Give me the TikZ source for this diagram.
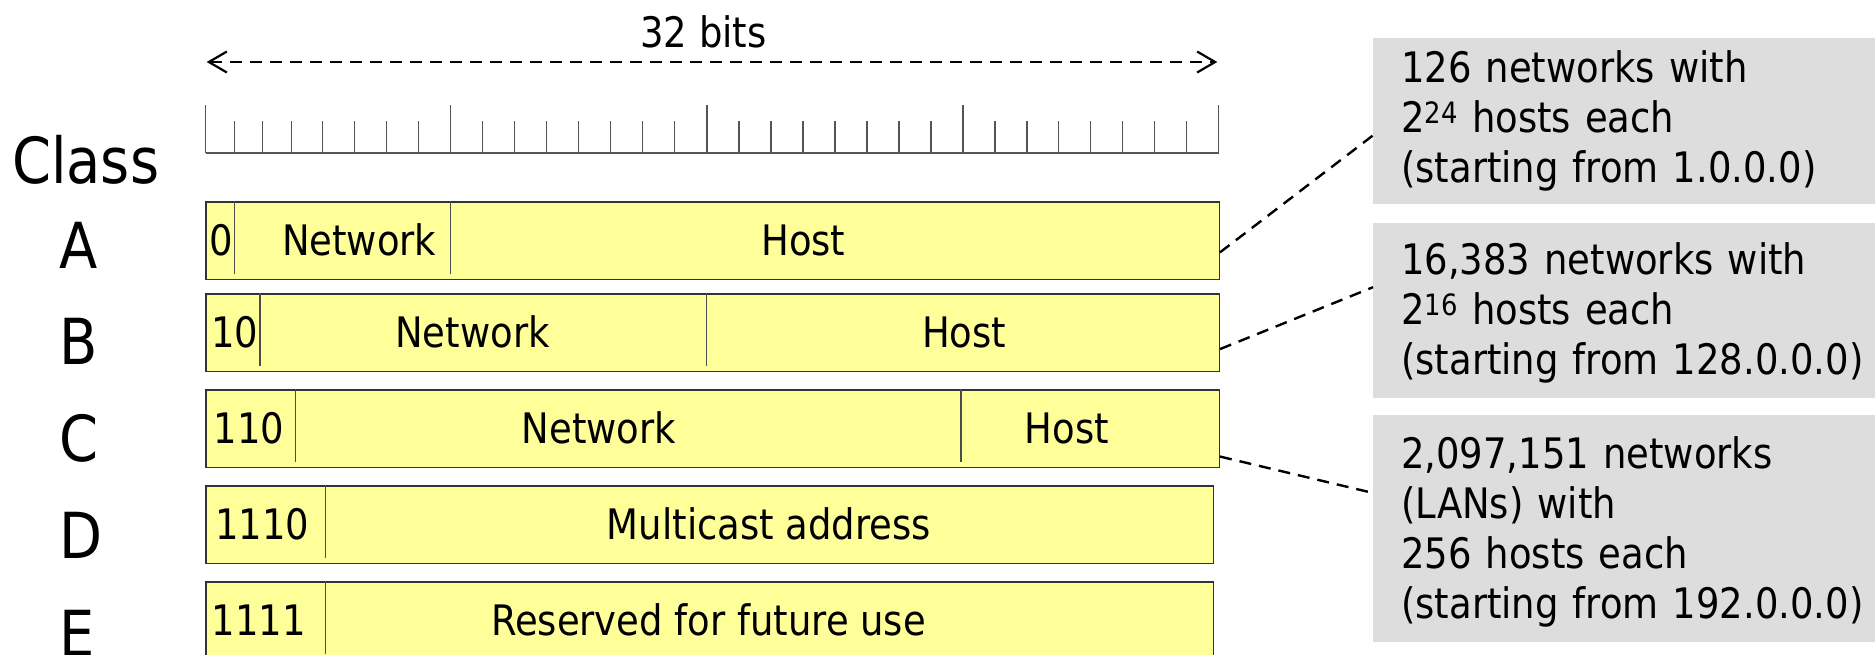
\documentclass[tikz,border=0pt]{standalone}
\usepackage{fontspec}
\setmainfont{DejaVu Sans}[FakeStretch=0.88]
\usepackage{tikz}
\usetikzlibrary{arrows.meta}
\definecolor{barfill}{HTML}{FFFF99}
\definecolor{notefill}{HTML}{DDDDDD}
\definecolor{rulergray}{HTML}{555555}
\newcommand{\notestrut}{\rule{0pt}{38pt}}

\begin{document}
\begin{tikzpicture}[x=1pt,y=-1pt,
  bar/.style={draw=black!80,line width=1.5pt,fill=barfill,anchor=north west,minimum height=77.5pt,inner sep=0pt},
  field/.style={anchor=base,inner sep=0pt,font=\fontsize{42}{50}\selectfont},
  classlbl/.style={anchor=base west,inner sep=0pt,font=\fontsize{63.5}{70}\selectfont},
  note/.style={fill=notefill,anchor=north west,align=left,text width=470pt,inner xsep=28pt,inner ysep=0pt,font=\fontsize{42}{50}\selectfont},
  divider/.style={draw=black!70,line width=1.3pt},
  link/.style={line width=2.4pt,dash pattern=on 12pt off 8pt}]
  \useasboundingbox (0,0) rectangle (1875,654);
  \draw[rulergray,line width=1.5pt] (205.7,153) -- (1218.5,153);
  \foreach \x in {205.7,450.7,706.8,962.9,1218.3}
    \draw[rulergray,line width=1.5pt] (\x,105) -- (\x,153);
  \foreach \x in {234.3,262.3,291.7,322.7,354.3,386.7,418.7}
    \draw[rulergray,line width=1.5pt] (\x,121) -- (\x,153);
  \foreach \i in {1,...,7} {
    \draw[rulergray,line width=1.5pt] (450.7+32*\i,121) -- (450.7+32*\i,153);
    \draw[rulergray,line width=1.5pt] (706.8+32.01*\i,121) -- (706.8+32.01*\i,153);
    \draw[rulergray,line width=1.5pt] (962.9+31.93*\i,121) -- (962.9+31.93*\i,153);
  }
  \coordinate (bitsL) at (206.7,62);
  \coordinate (bitsR) at (1217.3,62);
  \node[field] (bits) at (703.5,47) {32 bits};
  \draw[{Straight Barb[length=18pt,width=21pt]}-{Straight Barb[length=18pt,width=21pt]},line width=2.2pt,dash pattern=on 12pt off 8pt] (bitsL) -- (bitsR);
  \node[classlbl] (class) at (12,183) {Class};
  \node[classlbl] (clsA) at (59.5,268) {A};
  \node[classlbl] (clsB) at (59.5,364) {B};
  \node[classlbl] (clsC) at (59.5,461) {C};
  \node[classlbl] (clsD) at (59.5,558) {D};
  \node[classlbl] (clsE) at (59.5,656) {E};
  \node[bar,minimum width=1013.2pt] (barA) at (205.3,201) {};
  \node[bar,minimum width=1013.2pt] (barB) at (205.3,293.3) {};
  \node[bar,minimum width=1013.2pt] (barC) at (205.3,389.3) {};
  \node[bar,minimum width=1007.4pt] (barD) at (205.3,485) {};
  \node[bar,minimum width=1007.4pt] (barE) at (205.3,581) {};
  \draw[divider] (234.3,201) -- (234.3,273.5);
  \draw[divider] (450.7,201) -- (450.7,273.5);
  \draw[divider] (260,293.3) -- (260,365.8);
  \draw[divider] (706.7,293.3) -- (706.7,365.8);
  \draw[divider] (295.7,389.3) -- (295.7,461.8);
  \draw[divider] (961,389.3) -- (961,461.8);
  \draw[divider] (325.7,485) -- (325.7,557.5);
  \draw[divider] (325.7,581) -- (325.7,653.5);
  \node[field] (pfxA) at (220.8,255) {0};
  \node[field] (netA) at (359.2,255) {Network};
  \node[field] (hostA) at (803.3,255) {Host};
  \node[field] (pfxB) at (234.7,347.3) {10};
  \node[field] (netB) at (472.5,347.3) {Network};
  \node[field] (hostB) at (964.2,347.3) {Host};
  \node[field] (pfxC) at (249.2,443.3) {110};
  \node[field] (netC) at (599,443.3) {Network};
  \node[field] (hostC) at (1067,443.3) {Host};
  \node[field] (pfxD) at (262.5,539) {1110};
  \node[field] (mcastD) at (769,539) {Multicast address};
  \node[field] (pfxE) at (259,635) {1111};
  \node[field] (resE) at (708.5,635) {Reserved for future use};
  \node[note,minimum height=165.3pt] (noteA) at (1373,38) {126 networks with\\2\textsuperscript{24} hosts each\\(starting from 1.0.0.0)};
  \node[note,minimum height=174.6pt] (noteB) at (1373,222.7) {\notestrut 16,383 networks with\\2\textsuperscript{16} hosts each\\(starting from 128.0.0.0)};
  \node[note,minimum height=226.7pt] (noteC) at (1373,415) {\notestrut 2,097,151 networks\\(LANs) with\\256 hosts each\\(starting from 192.0.0.0)};
  \draw[link] ([yshift=-11.85pt]barA.east) -- ([yshift=-14.5pt]noteA.west);
  \draw[link] ([yshift=-16.3pt]barB.east) -- ([yshift=23pt]noteB.west);
  \draw[link] ([yshift=-27.75pt]barC.east) -- ([yshift=35.6pt]noteC.west);
\end{tikzpicture}
\end{document}
